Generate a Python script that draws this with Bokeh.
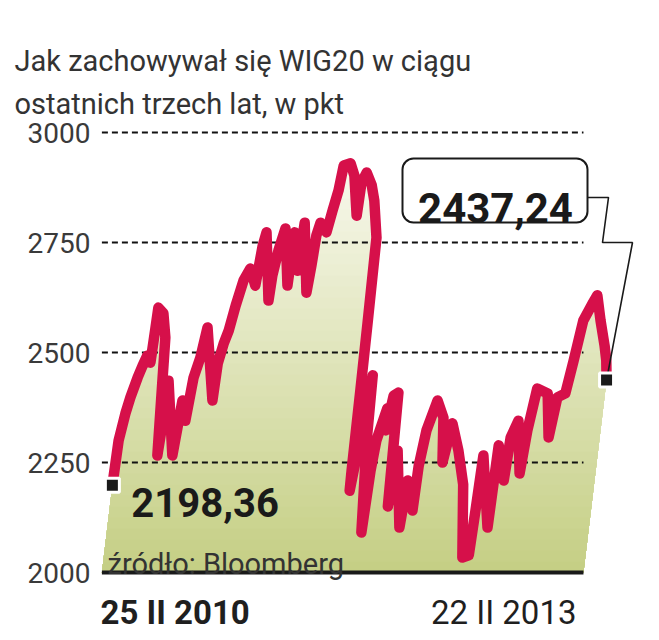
import numpy as np
import pandas as pd
from bokeh.plotting import figure
from bokeh.models import Range1d, BoxAnnotation
from bokeh.core.properties import value
from bokeh.embed import file_html
from bokeh.resources import INLINE

# ---------------- data ----------------
dates = [
    "2010-02-25", "2010-02-27", "2010-03-07", "2010-03-14", "2010-03-25", "2010-04-02",
    "2010-04-10", "2010-04-19", "2010-04-21", "2010-04-22", "2010-05-05", "2010-05-16",
    "2010-05-30", "2010-06-02", "2010-06-04", "2010-07-03", "2010-07-11", "2010-07-23",
    "2010-07-30", "2010-08-09", "2010-08-17", "2010-09-17", "2010-09-19", "2010-09-27",
    "2010-10-05", "2010-10-14", "2010-10-25", "2010-11-06", "2010-11-22", "2010-11-28",
    "2010-12-03", "2010-12-26", "2010-12-28", "2011-01-04", "2011-01-14", "2011-02-03",
    "2011-02-05", "2011-02-22", "2011-02-25", "2011-03-20", "2011-03-24", "2011-03-27",
    "2011-04-02", "2011-04-18", "2011-04-26", "2011-05-04", "2011-05-09", "2011-05-24",
    "2011-06-05", "2011-06-21", "2011-06-23", "2011-07-02", "2011-07-17", "2011-07-27",
    "2011-08-11", "2011-08-14", "2011-08-16", "2011-08-18", "2011-08-19", "2011-09-09",
    "2011-09-13", "2011-09-26", "2011-09-30", "2011-10-05", "2011-10-21", "2011-10-23",
    "2011-11-01", "2011-11-11", "2011-11-18", "2011-11-25", "2011-12-20", "2011-12-26",
    "2012-01-14", "2012-01-16", "2012-01-24", "2012-02-10", "2012-02-28", "2012-03-09",
    "2012-03-21", "2012-04-11", "2012-05-01", "2012-05-19", "2012-06-02", "2012-06-05",
    "2012-06-08", "2012-07-07", "2012-07-10", "2012-07-31", "2012-08-04", "2012-08-17",
    "2012-09-03", "2012-09-09", "2012-09-20", "2012-10-15", "2012-10-29", "2012-11-07",
    "2012-11-24", "2012-12-04", "2012-12-15", "2012-12-31", "2013-01-09", "2013-01-23",
    "2013-02-08", "2013-02-16", "2013-02-22",
]
wig20 = [
    2198.36, 2300, 2361, 2398, 2443, 2470,
    2493, 2477, 2557, 2602, 2589, 2534,
    2266, 2339, 2436, 2266, 2391, 2345,
    2443, 2489, 2557, 2391, 2475, 2520,
    2550, 2607, 2664, 2691, 2652, 2743,
    2773, 2618, 2675, 2732, 2782, 2652,
    2773, 2686, 2795, 2636, 2698, 2766,
    2795, 2773, 2823, 2868, 2925, 2930,
    2902, 2811, 2886, 2909, 2880, 2845,
    2761, 2568, 2414, 2232, 2186, 2448,
    2300, 2091, 2232, 2300, 2373, 2323,
    2402, 2409, 2150, 2277, 2102, 2209,
    2141, 2243, 2323, 2391, 2352, 2250,
    2339, 2277, 2200, 2034, 2039, 2141,
    2266, 2102, 2289, 2209, 2307, 2345,
    2225, 2323, 2418, 2407, 2307, 2398,
    2407, 2482, 2573, 2611, 2630, 2573,
    2516, 2482, 2437.24,
]
y_ticks = [2000, 2250, 2500, 2750, 3000]
y_tick_labels = ["2000", "2250", "2500", "2750", "3000"]
start_label = "2198,36"
end_label = "2437,24"
date_labels = ["25 II 2010", "22 II 2013"]
title_lines = ["Jak zachowywał się WIG20 w ciągu", "ostatnich trzech lat, w pkt"]
source_text = "źródło: Bloomberg"

# ---------------- layout constants ----------------
W, H = 651, 632
OFFSET = 0          # where the figure's top-left lands in the picture
PX_PER_DAY = 0.4406
PX_PER_PT = 0.44
X0_IMG = 101.4      # picture x of the first date at the baseline
Y0_IMG = 572.0      # picture y of the 2000 baseline
BASE = 2000.0
SHEAR = 0.12        # slant of the whole drawing (px of x per px of height)
SHEAR_D = SHEAR * PX_PER_PT / PX_PER_DAY

def dx(img_x):
    return (img_x - X0_IMG) / PX_PER_DAY

def dy(img_y):
    return BASE + (Y0_IMG - img_y) / PX_PER_PT

d = pd.to_datetime(dates)
days = np.array((d - d[0]).days, dtype=float)
vals = np.array(wig20, dtype=float)

def slant(x, v):
    return x + SHEAR_D * (np.asarray(v) - BASE)

sx = slant(days, vals)

p = figure(width=W, height=H,
           x_range=Range1d(dx(OFFSET), dx(OFFSET + W)),
           y_range=Range1d(dy(OFFSET + H), dy(OFFSET)),
           output_backend="svg", toolbar_location=None,
           x_axis_type=None, y_axis_type=None,
           min_border=0, min_border_left=0, min_border_right=0,
           min_border_top=0, min_border_bottom=0)
p.outline_line_color = None
p.background_fill_color = "white"
p.border_fill_color = "white"
p.grid.visible = False

# ---------------- gradient fill under the line ----------------
bottom_rgb = np.array([197, 207, 132])
top_rgb = np.array([250, 250, 240])
levels = np.arange(BASE + 25, 2975, 25)[::-1]
for L in levels:
    vv = np.minimum(vals, L)
    xs = np.concatenate([[days[0]], slant(days, vv), [days[-1]]])
    ys = np.concatenate([[BASE], vv, [BASE]])
    t = (L - 12.5 - BASE) / (2950 - BASE)
    t = min(max(t, 0), 1)
    c = (bottom_rgb + (top_rgb - bottom_rgb) * t).astype(int)
    p.patch(xs, ys, fill_color="#%02x%02x%02x" % tuple(c), line_color=None)

# ---------------- grid lines and baseline ----------------
for yt in y_ticks[1:]:
    p.line([days[0], days[-1]], [yt, yt], line_color="#111111",
           line_width=1.8, line_dash="6 4")
p.line([days[0], days[-1]], [BASE, BASE], line_color="#1a1a1a", line_width=4)

# ---------------- WIG20 line ----------------
p.line(sx, vals, line_color="#d6104a", line_width=10.5,
       line_join="round", line_cap="round")

# ---------------- callout for the last value ----------------
box = BoxAnnotation(left=dx(402), right=dx(587), top=dy(158), bottom=dy(222),
                    fill_color="white", fill_alpha=1.0, line_color="#1a1a1a",
                    line_alpha=1.0, line_width=2, border_radius=11, level="underlay")
p.add_layout(box)
p.line([dx(587), dx(608), dx(602), dx(632), sx[-1]],
       [dy(197), dy(197), dy(242), dy(242), vals[-1]],
       line_color="#1a1a1a", line_width=1.6)

# ---------------- markers ----------------
p.scatter([sx[0], sx[-1]], [vals[0], vals[-1]], marker="square", size=14,
          fill_color="#1a1a1a", line_color="white", line_width=3)

# ---------------- texts ----------------
p.text(x=[sx[0] + 19 / PX_PER_DAY], y=[vals[0] - 17 / PX_PER_PT], text=[start_label],
       text_font=value("Roboto"), text_font_style="bold",
       text_font_size="40px", text_color="#1a1a1a",
       text_align="left", text_baseline="alphabetic")
p.text(x=[dx(495)], y=[dy(207)], text=[end_label],
       text_font=value("Roboto"), text_font_style="bold",
       text_font_size="42px", text_color="#1a1a1a",
       text_align="center", text_baseline="alphabetic")

p.text(x=[dx(90)] * len(y_ticks), y=y_ticks, text=y_tick_labels,
       text_font=value("Roboto"), text_font_size="28px", text_color="#3a3a3a",
       text_align="right", text_baseline="middle")

p.text(x=[dx(14), dx(14)], y=[dy(60), dy(103)], text=title_lines,
       text_font=value("Roboto"), text_font_size="29px",
       text_color="#333333", text_align="left", text_baseline="alphabetic")

p.text(x=[dx(100)], y=[dy(612)], text=[date_labels[0]],
       text_font=value("Roboto"), text_font_style="bold", text_font_size="33px",
       text_color="#1f1f1f", text_align="left", text_baseline="alphabetic")
p.text(x=[dx(576)], y=[dy(612)], text=[date_labels[1]],
       text_font=value("Roboto"), text_font_size="33px",
       text_color="#1f1f1f", text_align="right", text_baseline="alphabetic")

p.text(x=[dx(107)], y=[dy(563)], text=[source_text],
       text_font=value("Roboto"), text_font_size="29px",
       text_color="#333333", text_align="left", text_baseline="alphabetic")

open("out.html", "w").write(file_html(p, INLINE))
